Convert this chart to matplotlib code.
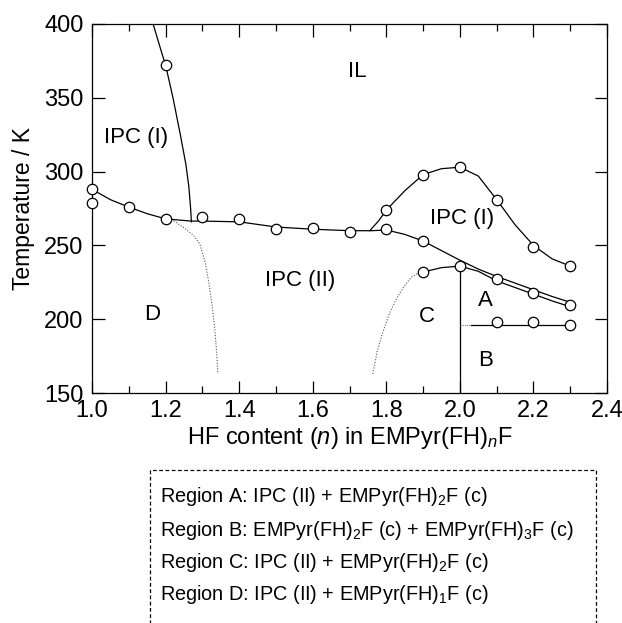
import numpy as np
import matplotlib.pyplot as plt
from matplotlib.patches import Rectangle

plt.rcParams['font.family'] = ['Liberation Sans', 'DejaVu Sans']
plt.rcParams['mathtext.fontset'] = 'custom'
plt.rcParams['mathtext.rm'] = 'Liberation Sans'
plt.rcParams['mathtext.it'] = 'Liberation Sans:italic'

# measured points (HF content n, temperature / K)
pts_n = [1.0, 1.0, 1.1, 1.2, 1.2, 1.3, 1.4, 1.5, 1.6, 1.7, 1.8, 1.8, 1.9, 1.9, 1.9,
         2.0, 2.0, 2.1, 2.1, 2.1, 2.2, 2.2, 2.2, 2.3, 2.3, 2.3]
pts_T = [288, 279, 276, 268, 372, 269, 268, 261, 262, 259, 274, 261, 298, 253, 232,
         303, 236, 281, 227, 198, 249, 218, 198, 236, 210, 196]

# phase boundaries
ipc1_left_n = [1.166, 1.19, 1.2, 1.22, 1.24, 1.255, 1.263, 1.268, 1.27]
ipc1_left_T = [400, 380, 372, 350, 325, 305, 290, 275, 266]

main_n = [1.0, 1.05, 1.1, 1.15, 1.2, 1.27, 1.3, 1.4, 1.5, 1.6, 1.7, 1.76, 1.8, 1.85,
          1.9, 1.95, 2.0, 2.05, 2.1, 2.15, 2.2, 2.25, 2.3]
main_T = [288, 281, 276, 271.5, 268, 266.5, 266.5, 266, 262.5, 261, 260, 260, 260.5, 257.5,
          253, 246.5, 240, 234, 229, 224.5, 220, 215.5, 211.5]

ipc1_right_n = [1.755, 1.78, 1.8, 1.85, 1.9, 1.95, 2.0, 2.05, 2.1, 2.15, 2.2, 2.25, 2.3]
ipc1_right_T = [260, 267, 274, 287, 298, 302, 303, 297, 281, 264, 250, 241, 236]

c_top_n = [1.9, 1.95, 2.0, 2.05, 2.1, 2.15, 2.2, 2.25, 2.3]
c_top_T = [232, 235, 236, 232.5, 226, 221.5, 217, 212.5, 208.5]

c_dot_n = [1.763, 1.775, 1.79, 1.81, 1.83, 1.85, 1.87, 1.885, 1.9]
c_dot_T = [163, 178, 191, 205, 215, 223, 229, 231, 232]

d_dot_n = [1.2, 1.22, 1.25, 1.275, 1.293, 1.308, 1.318, 1.326, 1.333, 1.338, 1.342]
d_dot_T = [268, 267, 262, 257, 251, 238, 224, 210, 195, 180, 163]

vert_n = [2.0, 2.0]
vert_T = [236, 150]

hor_dot_n = [2.0, 2.03]
hor_n = [2.03, 2.3]
hor_T = [196, 196]

labels = ['IL', 'IPC (I)', 'IPC (I)', 'IPC (II)', 'D', 'C', 'A', 'B']
label_n = [1.72, 1.12, 2.005, 1.565, 1.163, 1.91, 2.07, 2.07]
label_T = [368, 323, 268, 226, 203, 202, 213, 172]

region_lines = [
    r'Region A: IPC (II) + EMPyr(FH)$_2$F (c)',
    r'Region B: EMPyr(FH)$_2$F (c) + EMPyr(FH)$_3$F (c)',
    r'Region C: IPC (II) + EMPyr(FH)$_2$F (c)',
    r'Region D: IPC (II) + EMPyr(FH)$_1$F (c)',
]


def main():
    fig = plt.figure(figsize=(6.22, 6.23), dpi=100)
    ax = fig.add_axes([0.148, 0.369, 0.828, 0.5925])

    lw = 0.9
    ax.plot(ipc1_left_n, ipc1_left_T, color='black', lw=lw)
    ax.plot(main_n, main_T, color='black', lw=lw)
    ax.plot(ipc1_right_n, ipc1_right_T, color='black', lw=lw)
    ax.plot(c_top_n, c_top_T, color='black', lw=lw)
    ax.plot(c_dot_n, c_dot_T, color='#555555', lw=0.8, ls=(0, (1, 1.5)))
    ax.plot(d_dot_n, d_dot_T, color='#555555', lw=0.8, ls=(0, (1, 1.5)))
    ax.plot(vert_n, vert_T, color='black', lw=lw)
    ax.plot(hor_dot_n, hor_T, color='#777777', lw=0.8, ls=(0, (1, 1)))
    ax.plot(hor_n, hor_T, color='black', lw=lw)

    ax.plot(pts_n, pts_T, 'o', ms=7.5, mfc='white', mec='black', mew=0.9,
            ls='none', clip_on=False, zorder=5)

    for s, x, y in zip(labels, label_n, label_T):
        ax.text(x, y, s, fontsize=16, ha='center', va='center')

    ax.set_xlim(1.0, 2.4)
    ax.set_ylim(150, 400)
    ax.set_xticks(np.arange(1.0, 2.41, 0.2))
    ax.set_xticks(np.arange(1.1, 2.4, 0.2), minor=True)
    ax.set_yticks(np.arange(150, 401, 50))
    ax.set_xticklabels(['%.1f' % v for v in np.arange(1.0, 2.41, 0.2)])
    ax.tick_params(which='major', direction='in', length=9, width=0.9,
                   top=True, right=True, labelsize=17)
    ax.tick_params(which='minor', direction='in', length=5, width=0.9,
                   top=True, right=True)
    ax.tick_params(axis='x', pad=5)
    ax.tick_params(axis='y', pad=6)
    for sp in ax.spines.values():
        sp.set_linewidth(0.9)

    ax.set_xlabel(r'HF content ($n$) in EMPyr(FH)$_n$F', fontsize=17, labelpad=2)
    ax.set_ylabel('Temperature / K', fontsize=16.5, labelpad=7)

    # dashed legend box under the chart
    box = Rectangle((150 / 622, -0.05), (596 - 150) / 622, 0.05 + (623 - 470) / 623,
                    transform=fig.transFigure, fill=False, ls=(0, (3, 2)),
                    lw=0.9, color='black', clip_on=False)
    fig.add_artist(box)
    ys = [497, 530, 562, 594]
    for s, y in zip(region_lines, ys):
        fig.text(160 / 622, 1 - y / 623, s, fontsize=14.3, ha='left', va='center')

    fig.savefig('out.png', dpi=100)


if __name__ == '__main__':
    main()
